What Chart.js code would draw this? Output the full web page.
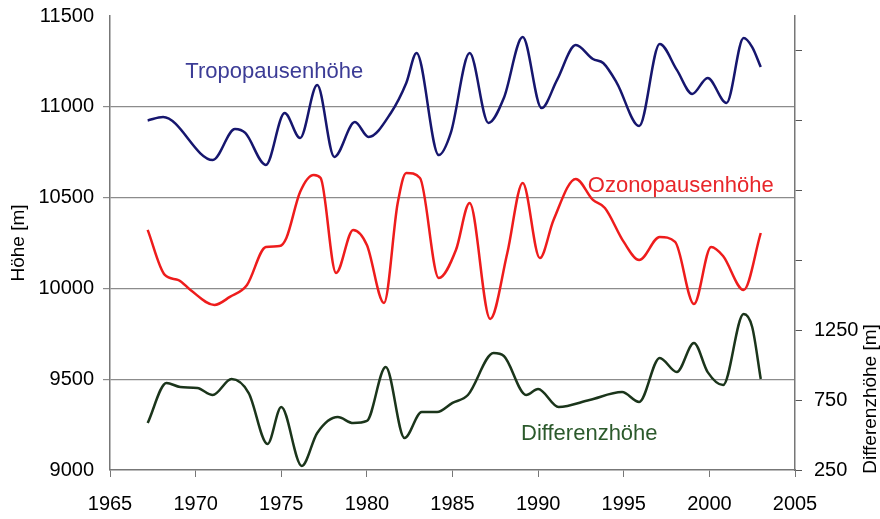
<!DOCTYPE html>
<html>
<head>
<meta charset="utf-8">
<script src="https://cdn.jsdelivr.net/npm/chart.js@4"></script>
<style>
  html, body { margin: 0; padding: 0; background: #fff; }
  #wrap { width: 880px; height: 519px; }
</style>
</head>
<body>
<div id="wrap"><canvas id="chart" width="880" height="519"></canvas></div>
<script>
// Years and values (points at the curve's turning points)
const tropoYears = [1967.2, 1968.1, 1971.0, 1972.3, 1972.9, 1974.1, 1975.2, 1976.1, 1977.1, 1978.1, 1979.3, 1980.1, 1981.4, 1982.3, 1982.9, 1984.2, 1984.9, 1986.0, 1987.1, 1988.0, 1989.1, 1990.2, 1991.1, 1992.2, 1993.2, 1993.8, 1994.6, 1995.9, 1997.1, 1998.1, 1999.0, 1999.9, 2001.0, 2002.0, 2002.5, 2003.0];
const tropoValues = [10925, 10944, 10707, 10878, 10856, 10680, 10966, 10828, 11120, 10724, 10916, 10834, 10966, 11131, 11296, 10734, 10856, 11296, 10911, 11049, 11384, 10993, 11147, 11340, 11263, 11241, 11131, 10894, 11346, 11203, 11071, 11159, 11021, 11379, 11329, 11219];

const ozonYears = [1967.2, 1968.2, 1969.0, 1969.7, 1971.1, 1972.0, 1973.0, 1974.1, 1974.9, 1975.3, 1976.1, 1976.9, 1977.3, 1978.2, 1979.2, 1980.0, 1981.0, 1981.8, 1982.3, 1983.1, 1984.2, 1985.2, 1986.0, 1987.2, 1988.2, 1989.1, 1990.1, 1990.9, 1992.2, 1993.2, 1993.9, 1995.0, 1995.9, 1997.1, 1998.0, 1999.1, 2000.1, 2000.8, 2002.0, 2003.0];
const ozonValues = [10322, 10074, 10046, 9991, 9909, 9953, 10019, 10228, 10233, 10278, 10531, 10625, 10608, 10085, 10322, 10239, 9920, 10470, 10636, 10608, 10057, 10211, 10470, 9832, 10195, 10581, 10167, 10377, 10603, 10487, 10443, 10256, 10156, 10283, 10256, 9914, 10228, 10178, 9991, 10305];

const diffYears = [1967.2, 1968.3, 1969.1, 1970.1, 1971.0, 1972.1, 1973.1, 1974.2, 1975.0, 1976.2, 1977.1, 1978.3, 1979.2, 1980.0, 1981.1, 1982.2, 1983.2, 1984.1, 1985.0, 1985.9, 1987.4, 1988.0, 1989.3, 1990.0, 1991.2, 1993.0, 1994.9, 1995.9, 1997.1, 1998.1, 1999.1, 1999.9, 2000.8, 2002.0, 2002.5, 2003.0];
const diffValues = [586, 873, 844, 837, 787, 901, 801, 436, 701, 279, 515, 629, 586, 601, 987, 479, 665, 665, 730, 787, 1087, 1066, 787, 830, 701, 751, 808, 737, 1052, 951, 1159, 951, 858, 1367, 1274, 901];

const yearTicks = [1965, 1970, 1975, 1980, 1985, 1990, 1995, 2000, 2005];
const heightTicks = [9000, 9500, 10000, 10500, 11000, 11500];
const diffTicks = [250, 750, 1250, 1750, 2250, 2750, 3250];
const diffLabelled = [250, 750, 1250];

function pairs(xs, ys) {
  return xs.map((x, i) => ({ x: x, y: ys[i] }));
}

const FONT = "'Liberation Sans', Arial, sans-serif";

// series names written next to the curves, and the axis titles
const textPlugin = {
  id: 'texts',
  afterDraw(chart) {
    const ctx = chart.ctx;
    const xs = chart.scales.x, yl = chart.scales.y;
    ctx.save();
    ctx.font = "22px " + FONT;
    ctx.textBaseline = 'middle';
    ctx.textAlign = 'left';
    ctx.fillStyle = '#3c3c96';
    ctx.fillText('Tropopausenhöhe', xs.getPixelForValue(1969.4), yl.getPixelForValue(11190));
    ctx.fillStyle = '#e8262a';
    ctx.fillText('Ozonopausenhöhe', xs.getPixelForValue(1992.9), yl.getPixelForValue(10565));
    ctx.fillStyle = '#2c5a2c';
    ctx.fillText('Differenzhöhe', xs.getPixelForValue(1989.0), yl.getPixelForValue(9200));

    ctx.fillStyle = '#000';
    ctx.font = "19px " + FONT;
    ctx.textAlign = 'center';
    ctx.translate(19, 243);
    ctx.rotate(-Math.PI / 2);
    ctx.fillText('Höhe [m]', 0, 0);
    ctx.restore();

    ctx.save();
    ctx.fillStyle = '#000';
    ctx.font = "19px " + FONT;
    ctx.textAlign = 'center';
    ctx.textBaseline = 'middle';
    ctx.translate(871, 399);
    ctx.rotate(-Math.PI / 2);
    ctx.fillText('Differenzhöhe [m]', 0, 0);
    ctx.restore();
  }
};

new Chart(document.getElementById('chart'), {
  type: 'line',
  data: {
    datasets: [
      {
        label: 'Tropopausenhöhe',
        data: pairs(tropoYears, tropoValues),
        borderColor: '#16166e',
        borderWidth: 2.5,
        pointRadius: 0,
        cubicInterpolationMode: 'monotone',
        yAxisID: 'y'
      },
      {
        label: 'Ozonopausenhöhe',
        data: pairs(ozonYears, ozonValues),
        borderColor: '#ee1c1c',
        borderWidth: 2.5,
        pointRadius: 0,
        cubicInterpolationMode: 'monotone',
        yAxisID: 'y'
      },
      {
        label: 'Differenzhöhe',
        data: pairs(diffYears, diffValues),
        borderColor: '#1b351b',
        borderWidth: 2.5,
        pointRadius: 0,
        cubicInterpolationMode: 'monotone',
        yAxisID: 'y2'
      }
    ]
  },
  options: {
    responsive: false,
    animation: false,
    layout: { padding: { top: 16, left: 0, right: 0, bottom: 0 } },
    plugins: { legend: { display: false }, tooltip: { enabled: false } },
    scales: {
      x: {
        type: 'linear',
        min: 1965,
        max: 2005,
        afterBuildTicks(scale) { scale.ticks = yearTicks.map(v => ({ value: v })); },
        afterFit(scale) { scale.height = 49; },
        ticks: {
          color: '#000',
          font: { family: FONT, size: 20 },
          padding: 15,
          maxRotation: 0,
          callback: v => String(v)
        },
        grid: { drawOnChartArea: false, tickLength: 7, color: '#777' },
        border: { color: '#777', width: 1.5 }
      },
      y: {
        position: 'left',
        min: 9000,
        max: 11500,
        afterBuildTicks(scale) { scale.ticks = heightTicks.map(v => ({ value: v })); },
        afterFit(scale) { scale.width = 110; scale.paddingTop = 0; },
        ticks: {
          color: '#000',
          font: { family: FONT, size: 20 },
          padding: 9,
          callback: v => String(v)
        },
        grid: {
          color: ctx => (ctx.tick && (ctx.tick.value === 11500 || ctx.tick.value === 9000)) ? 'rgba(0,0,0,0)' : '#8c8c8c',
          lineWidth: 1.2,
          tickLength: 7
        },
        border: { color: '#777', width: 1.5 }
      },
      y2: {
        position: 'right',
        min: 250,
        max: 3500,
        afterBuildTicks(scale) { scale.ticks = diffTicks.map(v => ({ value: v })); },
        afterFit(scale) { scale.width = 85; scale.paddingTop = 0; },
        ticks: {
          color: '#000',
          font: { family: FONT, size: 20 },
          padding: 12,
          callback: v => diffLabelled.includes(v) ? String(v) : ''
        },
        grid: { drawOnChartArea: false, tickLength: 7, color: '#555' },
        border: { color: '#777', width: 1.5 }
      }
    }
  },
  plugins: [textPlugin]
});
</script>
</body>
</html>
